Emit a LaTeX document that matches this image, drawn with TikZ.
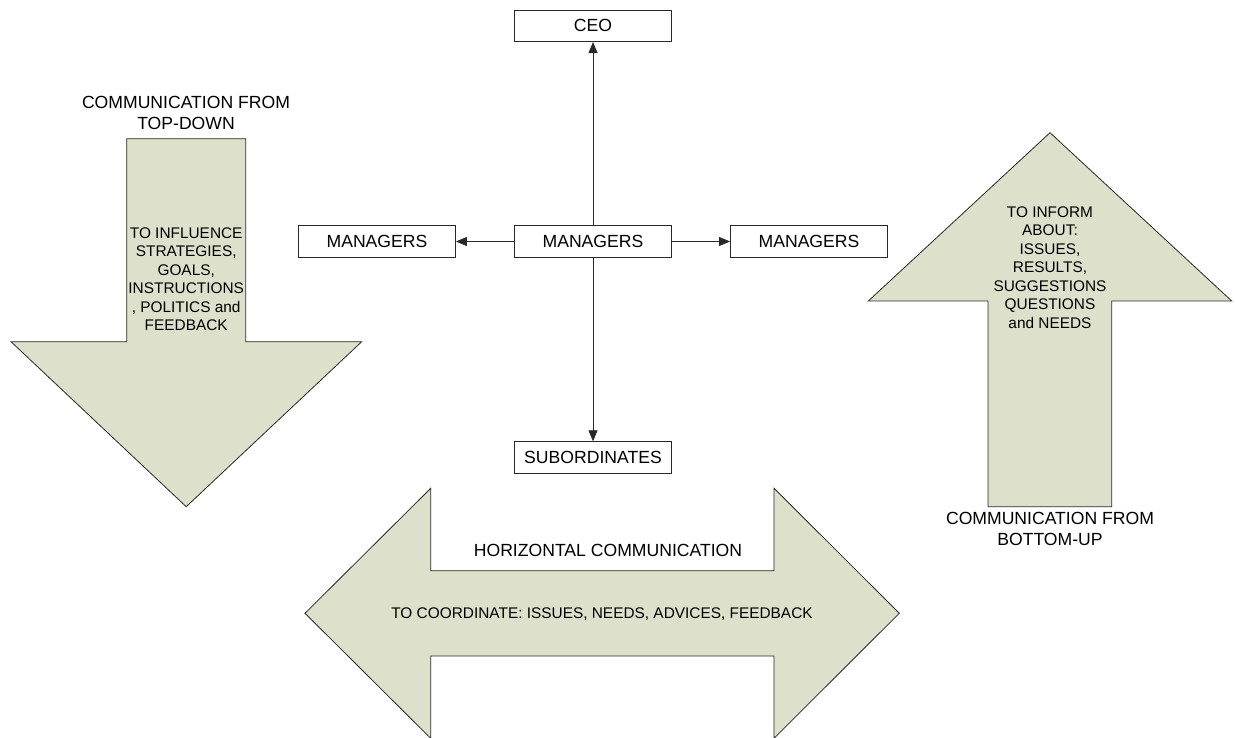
\documentclass[tikz,border=0pt]{standalone}
\usepackage{fontspec}
\setmainfont{Liberation Sans}
\usetikzlibrary{arrows.meta}
\definecolor{arrowfill}{RGB}{221,224,203}
\definecolor{edge}{RGB}{40,40,40}
\tikzset{
  bigarrow/.style={draw=edge, fill=arrowfill, line width=0.8pt, line join=miter},
  orgbox/.style={draw=edge, line width=0.8pt, fill=white, minimum width=157pt, minimum height=31.6pt, inner sep=0pt,
    font=\fontsize{17.6}{20.6}\selectfont},
  conn/.style={draw=edge, line width=0.8pt, -{Triangle[length=11pt,width=9pt]}},
  biglabel/.style={inner sep=0pt, align=center, font=\fontsize{17.6}{20.6}\selectfont},
  innerlabel/.style={inner sep=0pt, align=center, font=\fontsize{15.4}{18.5}\selectfont},
}
\begin{document}
\begin{tikzpicture}[x=1pt, y=-1pt]
\useasboundingbox (0,0) rectangle (1235,738);
% left down arrow
\draw[bigarrow] (126.7,138.7) -- (245.7,138.7) -- (245.7,341.7) -- (361.7,341.7) -- (186.2,506.7) -- (11,341.7) -- (126.7,341.7) -- cycle;
% right up arrow
\draw[bigarrow] (988,506.7) -- (988,301) -- (868.3,301) -- (1050,132.7) -- (1231.7,301) -- (1111.7,301) -- (1111.7,506.7) -- cycle;
% horizontal double arrow
\draw[bigarrow] (305,613.3) -- (430.7,488.3) -- (430.7,570.7) -- (774,570.7) -- (774,488.3) -- (899.3,613.3) -- (774,738.3) -- (774,656) -- (430.7,656) -- (430.7,738.3) -- cycle;

% labels
\node[biglabel, anchor=north] (topdown) at (186,96.4) {COMMUNICATION FROM\\TOP-DOWN};
\node[innerlabel, anchor=north] (topdowntxt) at (186.2,227.2) {TO INFLUENCE\\STRATEGIES,\\GOALS,\\INSTRUCTIONS\\, POLITICS and\\FEEDBACK};
\node[innerlabel, anchor=north] (bottomuptxt) at (1050,206.2) {TO INFORM\\ABOUT:\\ISSUES,\\RESULTS,\\SUGGESTIONS\\QUESTIONS\\and NEEDS};
\node[biglabel, anchor=north] (bottomup) at (1050,512) {COMMUNICATION FROM\\BOTTOM-UP};
\node[biglabel, anchor=base] (horiz) at (608,556.3) {HORIZONTAL COMMUNICATION};
\node[innerlabel, anchor=base] (horiztxt) at (602,618.2) {TO COORDINATE: ISSUES, NEEDS, ADVICES, FEEDBACK};

% org boxes
\node[orgbox] (ceo) at (593,25.85) {CEO};
\node[orgbox] (mc) at (593,241.5) {MANAGERS};
\node[orgbox] (ml) at (377,241.5) {MANAGERS};
\node[orgbox] (mr) at (809,241.5) {MANAGERS};
\node[orgbox] (sub) at (593,457.5) {SUBORDINATES};

\draw[conn] (mc.north) -- (ceo.south);
\draw[conn] (mc.south) -- (sub.north);
\draw[conn] (mc.west) -- (ml.east);
\draw[conn] (mc.east) -- (mr.west);
\end{tikzpicture}
\end{document}
